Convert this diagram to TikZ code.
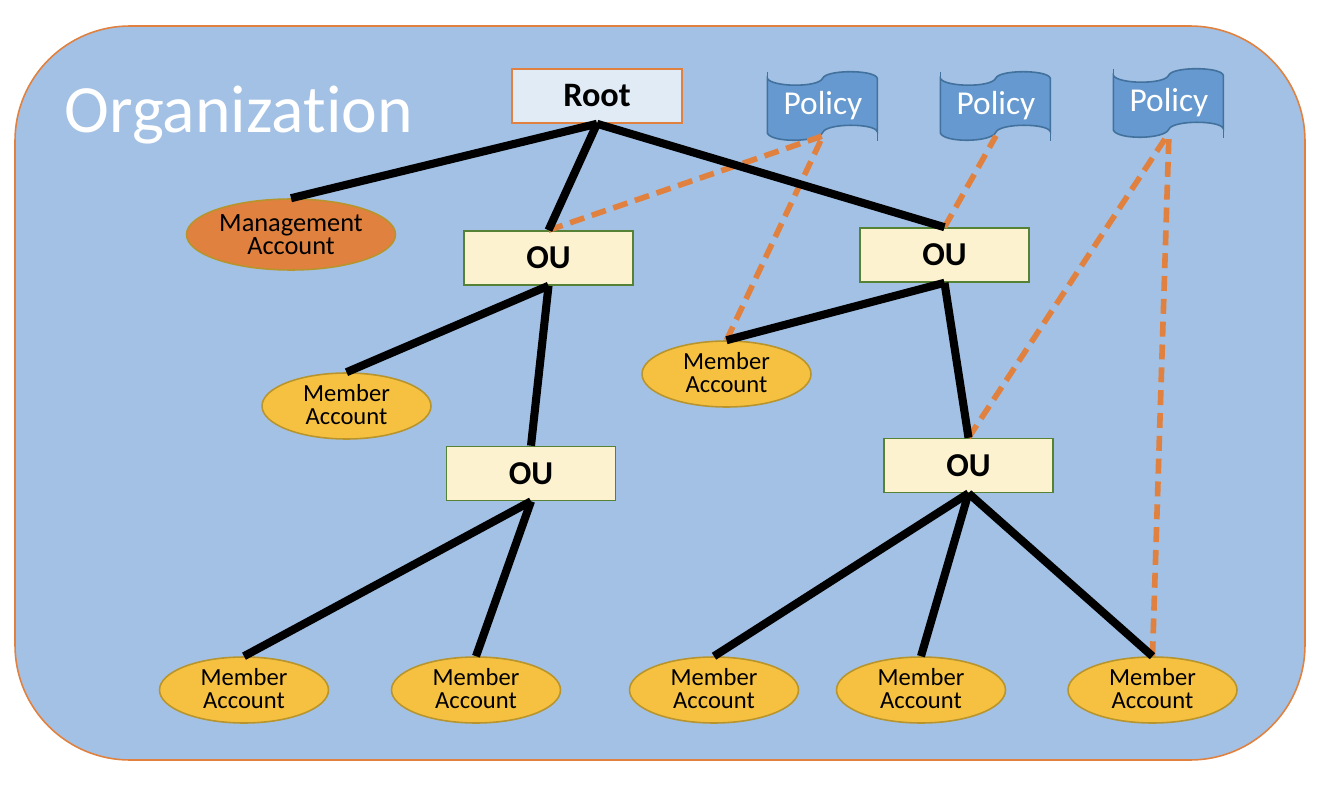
\documentclass[tikz,border=0pt]{standalone}
\usepackage{fontspec}
\setmainfont[Ligatures=NoCommon]{Carlito}
\usetikzlibrary{shapes, positioning}
\definecolor{orgfill}{HTML}{A3C1E4}
\definecolor{orgline}{HTML}{E0813F}
\definecolor{rootfill}{HTML}{E1EBF5}
\definecolor{oufill}{HTML}{FDF2D0}
\definecolor{ouline}{HTML}{558235}
\definecolor{acctfill}{HTML}{F6C141}
\definecolor{acctline}{HTML}{B8942C}
\definecolor{policyfill}{HTML}{6699CF}
\definecolor{policyline}{HTML}{41719C}
% flag outline drawn under its node
\newcommand{\policyflag}[3]{
    \begin{scope}[shift={(#2,#3)}]
        \draw[draw=policyline, fill=policyfill, line width=0.9pt] (-55.7,-27.7) .. controls (-52,-19) and (-5,-18) .. (-0.3,-27.7) .. controls (3,-36.5) and (52,-36.5) .. (54.3,-27.7) -- (54.3,25.7) .. controls (52,17) and (3,17) .. (-0.3,26.5) .. controls (-5,36.5) and (-52,37) .. (-55.7,27) -- cycle;
        \draw[draw=policyline, line width=0.9pt] (-55.7,-27.7) -- (-55.7,-34.3) (54.3,25.7) -- (54.3,35);
    \end{scope}
    \node [policy] (#1) at (#2,#3) {Policy};
}

\begin{document}
\begin{tikzpicture}[x=0.02cm,y=-0.02cm,
    every node/.style={inner sep=0pt, align=center, line width=0.9pt},
    rootbox/.style={draw=orgline, fill=rootfill, minimum width=3.4cm, minimum height=1.08cm, font=\fontsize{19.5}{22}\selectfont\bfseries},
    oubox/.style={draw=ouline, fill=oufill, minimum width=3.38cm, minimum height=1.08cm, font=\fontsize{19}{22}\selectfont\bfseries},
    account/.style={ellipse, draw=acctline, fill=acctfill, minimum width=3.38cm, minimum height=1.32cm, text depth=1.5pt, font=\fontsize{14}{13}\selectfont},
    manager/.style={account, fill=orgline, minimum width=4.18cm, minimum height=1.42cm, text depth=0pt, font=\fontsize{15}{13}\selectfont},
    policy/.style={text=white, minimum width=2.2cm, minimum height=1.16cm, font=\fontsize{19}{22}\selectfont},
    link/.style={line width=4.6pt, black},
    attach/.style={line width=3.2pt, orgline, dash pattern=on 8.5pt off 4.5pt}]
    \useasboundingbox (0,0) rectangle (1330,794);
    \fill[white] (0,0) rectangle (1330,794);
    \draw[orgline, fill=orgfill, line width=0.9pt, rounded corners=2.3cm] (15,26) rectangle (1305,760);

    \node [text=white, font=\fontsize{38.5}{44}\selectfont] (Title) at (239,115) {Organization};

    \node [rootbox] (Root) at (597,96) {Root};
    \policyflag{P1}{823}{106}
    \policyflag{P2}{996}{106}
    \policyflag{P3}{1169}{103}

    \node [manager] (Mgmt) at (291,234.5) {Management\\Account};
    \node [oubox] (OU1) at (548.5,258) {OU};
    \node [oubox] (OU2) at (944.5,255) {OU};
    \node [oubox] (OU3) at (531,473.5) {OU};
    \node [oubox] (OU4) at (968.5,465.5) {OU};

    \node [account] (A1) at (346.5,406) {Member\\Account};
    \node [account] (A2) at (726.5,374) {Member\\Account};
    \node [account] (A3) at (244,690) {Member\\Account};
    \node [account] (A4) at (476,690) {Member\\Account};
    \node [account] (A5) at (714,690) {Member\\Account};
    \node [account] (A6) at (921,690) {Member\\Account};
    \node [account] (A7) at (1152.5,690) {Member\\Account};

    \path[attach] (OU1.north) edge (P1.south);
    \path[attach] (A2.north) edge (P1.south);
    \path[attach] (OU2.north) edge (P2.south);
    \path[attach] (OU4.north) edge (P3.south);
    \path[attach] (A7.north) edge (P3.south);

    \path[link] (Root.south) edge (Mgmt.north);
    \path[link] (Root.south) edge (OU1.north);
    \path[link] (Root.south) edge (OU2.north);
    \path[link] (OU1.south) edge (A1.north);
    \path[link] (OU1.south) edge (OU3.north);
    \path[link] (OU2.south) edge (A2.north);
    \path[link] (OU2.south) edge (OU4.north);
    \path[link] (OU3.south) edge (A3.north);
    \path[link] (OU3.south) edge (A4.north);
    \path[link] (OU4.south) edge (A5.north);
    \path[link] (OU4.south) edge (A6.north);
    \path[link] (OU4.south) edge (A7.north);
\end{tikzpicture}
\end{document}
